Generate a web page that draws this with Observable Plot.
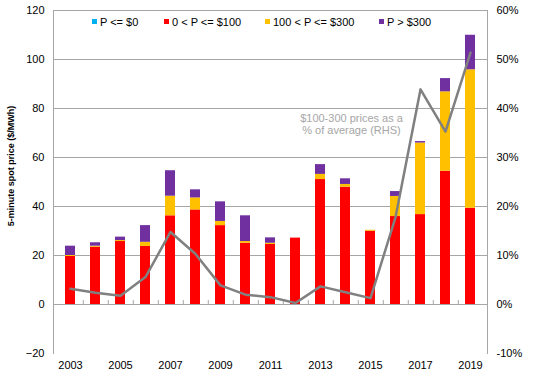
<!DOCTYPE html>
<html>
<head>
<meta charset="utf-8">
<script src="https://cdn.jsdelivr.net/npm/d3@7"></script>
<script src="https://cdn.jsdelivr.net/npm/@observablehq/plot@0.6"></script>
<style>
  body { margin: 0; background: #fff; }
  #wrap { position: relative; width: 535px; height: 377px; font-family: "Liberation Sans", Arial, sans-serif; }
  .leg { position: absolute; top: 15px; font-size: 11px; color: #000; white-space: nowrap; line-height: 14px; }
  .leg i { display: inline-block; width: 5px; height: 5px; margin-right: 3px; vertical-align: 2px; }
  #ylab { position: absolute; left: 11px; top: 166px; transform: translate(-50%, -50%) rotate(-90deg); font-size: 9px; font-weight: bold; white-space: nowrap; }
</style>
</head>
<body>
<div id="wrap"></div>
<script>
const years = ["2003","2004","2005","2006","2007","2008","2009","2010","2011","2012","2013","2014","2015","2016","2017","2018","2019"];
const categories = ["P <= $0", "0 < P <= $100", "100 < P <= $300", "P > $300"];
const colors = ["#00b0f0", "#ff0000", "#ffc000", "#7030a0"];
// contribution to average price ($/MWh) by price band
const negBand  = [0,0,0,0,0,0,0,0,0,0,0,0,0,0,0,0,0];
const lowBand  = [19.6,23.4,25.7,23.7,36.2,38.6,32.2,25.0,24.5,27.1,51.0,47.9,29.9,35.9,36.7,54.4,39.3];
const midBand  = [0.4,0.4,0.4,1.7,8.0,4.9,1.7,0.7,0.5,0,2.1,1.1,0.4,8.2,29.2,32.4,56.5];
const highBand = [3.8,1.4,1.4,6.8,10.4,3.3,8.0,10.5,2.2,0,4.0,2.3,0,2.0,0.6,5.4,14.1];
// $100-300 prices as a % of average (RHS)
const midShare = [3.2,2.4,1.8,5.6,14.8,10.3,3.9,2.0,1.5,0.3,3.7,2.5,1.3,17.8,43.9,35.3,51.4];
const leftTicks = [-20,0,20,40,60,80,100,120];
const gridTicks = [0,20,40,60,80,100,120];
const xTickLabels = ["2003","2005","2007","2009","2011","2013","2015","2017","2019"];

const bands = [negBand, lowBand, midBand, highBand];
const barData = [];
years.forEach((y, i) => categories.forEach((c, k) => barData.push({year: y, cat: c, value: bands[k][i]})));
const lineData = years.map((y, i) => ({year: y, pct: midShare[i]}));

const chart = Plot.plot({
  width: 535, height: 377,
  marginLeft: 53, marginRight: 48, marginTop: 10, marginBottom: 24,
  style: {fontFamily: "'Liberation Sans', Arial, sans-serif", fontSize: "11px", color: "#000", background: "#fff"},
  x: {type: "band", domain: years, paddingInner: 0.6, paddingOuter: 0.3, label: null},
  y: {domain: [-20, 120], label: null},
  color: {domain: categories, range: colors},
  marks: [
    Plot.ruleY(gridTicks, {stroke: "#a6a6a6", strokeWidth: 1}),
    Plot.barY(barData, {x: "year", y: "value", fill: "cat", order: categories}),
    Plot.ruleX(years.slice(0, -1), {x: d => d, y1: 0, y2: 1.6, dx: 12.8, stroke: "#a6a6a6"}),
    Plot.line(lineData, {x: "year", y: d => d.pct * 2, stroke: "#808080", strokeWidth: 2.5}),
    Plot.axisY(leftTicks, {anchor: "left", tickSize: 0, tickPadding: 9, fontSize: 11, label: null}),
    Plot.axisY(leftTicks, {anchor: "right", tickSize: 0, tickPadding: 9, fontSize: 11, label: null, tickFormat: d => (d / 2) + "%"}),
    Plot.axisX(xTickLabels, {anchor: "bottom", tickSize: 0, tickPadding: 8, fontSize: 11, label: null}),
    Plot.frame({anchor: "left", stroke: "#a6a6a6"}),
    Plot.frame({anchor: "right", stroke: "#a6a6a6"}),
    Plot.text(["$100-300 prices as a\n% of average (RHS)"], {x: () => "2014", y: () => 73.5, dx: 6, fill: "#a6a6a6", fontSize: 11, lineHeight: 1.1, text: d => d})
  ]
});
const wrap = document.getElementById("wrap");
wrap.appendChild(chart);

const legendX = [92, 164, 265, 379];
categories.forEach((c, k) => {
  const d = document.createElement("div");
  d.className = "leg";
  d.style.left = legendX[k] + "px";
  d.innerHTML = `<i style="background:${colors[k]}"></i>` + c.replace(/</g, "&lt;").replace(/>/g, "&gt;");
  wrap.appendChild(d);
});
const yl = document.createElement("div");
yl.id = "ylab";
yl.textContent = "5-minute spot price ($/MWh)";
wrap.appendChild(yl);
</script>
</body>
</html>
